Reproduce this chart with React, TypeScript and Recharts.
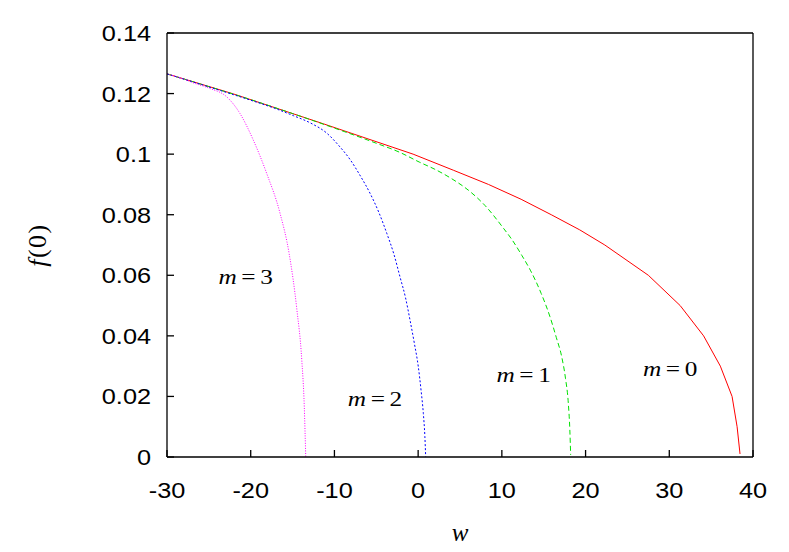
import React from 'react'
import { LineChart, Line, XAxis, YAxis, ReferenceDot, Label } from 'recharts'

// f(0) against w, one curve for each m
const m0 = [
  { w: -30, f: 0.1265 }, { w: -22.2, f: 0.12 }, { w: -11.3, f: 0.11 }, { w: -0.6, f: 0.1 },
  { w: 4.2, f: 0.0947 }, { w: 8.4, f: 0.09 }, { w: 12.3, f: 0.0851 }, { w: 15.9, f: 0.08 },
  { w: 19.3, f: 0.075 }, { w: 22.3, f: 0.07 }, { w: 27.5, f: 0.06 },
  { w: 31.3, f: 0.05 }, { w: 34.1, f: 0.04 }, { w: 36.1, f: 0.03 }, { w: 37.5, f: 0.02 },
  { w: 38.1, f: 0.01 }, { w: 38.45, f: 0.001 },
]
const m1 = [
  { w: -30, f: 0.1265 }, { w: -25, f: 0.1223 }, { w: -20, f: 0.118 }, { w: -15, f: 0.1134 },
  { w: -10, f: 0.1086 }, { w: -5, f: 0.1036 }, { w: -2.2, f: 0.1006 }, { w: 0.2, f: 0.0973 },
  { w: 2, f: 0.095 }, { w: 4, f: 0.0919 }, { w: 6, f: 0.0881 }, { w: 8, f: 0.083 },
  { w: 10.2, f: 0.0755 }, { w: 11.2, f: 0.0718 }, { w: 12.4, f: 0.0665 }, { w: 13.4, f: 0.0617 },
  { w: 14.7, f: 0.054 }, { w: 15.75, f: 0.0463 }, { w: 16.5, f: 0.0395 }, { w: 17.15, f: 0.0331 },
  { w: 17.6, f: 0.026 }, { w: 17.94, f: 0.0177 }, { w: 18.12, f: 0.009 }, { w: 18.22, f: 0.0007 },
]
const m2 = [
  { w: -30, f: 0.1265 }, { w: -25, f: 0.1222 }, { w: -20, f: 0.1178 }, { w: -17, f: 0.115 },
  { w: -14.9, f: 0.1127 }, { w: -12.8, f: 0.1102 }, { w: -10.9, f: 0.1069 }, { w: -9.5, f: 0.1029 },
  { w: -8.1, f: 0.0981 }, { w: -6.9, f: 0.0928 }, { w: -5.75, f: 0.0871 }, { w: -4.7, f: 0.0808 },
  { w: -3.75, f: 0.0739 }, { w: -2.9, f: 0.067 }, { w: -2.17, f: 0.0595 }, { w: -1.5, f: 0.0525 },
  { w: -0.97, f: 0.0452 }, { w: -0.45, f: 0.0375 }, { w: 0.02, f: 0.0298 }, { w: 0.35, f: 0.022 },
  { w: 0.62, f: 0.0144 }, { w: 0.8, f: 0.007 }, { w: 0.9, f: 0.0001 },
]
const m3 = [
  { w: -30, f: 0.1265 }, { w: -28, f: 0.1248 }, { w: -26.9, f: 0.1236 }, { w: -24.9, f: 0.1217 },
  { w: -22.9, f: 0.119 }, { w: -21.3, f: 0.1135 }, { w: -19.7, f: 0.1047 }, { w: -18.1, f: 0.0937 },
  { w: -16.5, f: 0.0805 }, { w: -15.4, f: 0.067 }, { w: -14.5, f: 0.049 }, { w: -13.9, f: 0.032 },
  { w: -13.6, f: 0.0166 }, { w: -13.43, f: 0.0001 },
]

const xTicks = [-30, -20, -10, 0, 10, 20, 30, 40]
const yTicks = [0, 0.02, 0.04, 0.06, 0.08, 0.1, 0.12, 0.14]

// curve labels, placed in data coordinates
const curveLabels = [
  { m: '3', w: -20.6, f: 0.0571 },
  { m: '2', w: -5.15, f: 0.0168 },
  { m: '1', w: 12.6, f: 0.0248 },
  { m: '0', w: 30.1, f: 0.0268 },
]

const SX = 1.15
const sans = '"Liberation Sans", Arial, sans-serif'
const serif = '"Liberation Serif", "Times New Roman", serif'
const axisStroke = { stroke: '#000', strokeWidth: 1.3 }

const LeftTick = (p: any) => (
  <text transform={`translate(${p.x},${p.y}) scale(${SX},1)`} textAnchor="end" dy="0.36em" fontFamily={sans} fontSize={22} fill="#000">
    {String(p.payload.value)}
  </text>
)

const BottomTick = (p: any) => (
  <text transform={`translate(${p.x},${p.y}) scale(${SX},1)`} textAnchor="middle" fontFamily={sans} fontSize={22} fill="#000">
    {String(p.payload.value)}
  </text>
)

const NoTick = () => <g />

const MLabel = ({ cx, cy, m }: any) => (
  <text transform={`translate(${cx},${cy}) scale(${SX},1)`} textAnchor="middle" fontFamily={serif} fontSize={22} fill="#000">
    <tspan fontStyle="italic">m</tspan>
    <tspan dx={4}>=</tspan>
    <tspan dx={4}>{m}</tspan>
  </text>
)

export default function App() {
  return (
    <div style={{ position: 'absolute', left: 0, top: 0, width: 789, height: 552, background: '#fff' }}>
      <LineChart width={789} height={552} margin={{ top: 32, right: 35, bottom: 0, left: 0 }}>
        <XAxis
          type="number"
          dataKey="w"
          domain={[-30, 40]}
          ticks={xTicks}
          height={95}
          tickSize={-7}
          tickMargin={47.5}
          tick={BottomTick}
          axisLine={axisStroke}
          tickLine={axisStroke}
        >
          <Label
            content={({ viewBox }: any) => (
              <text x={viewBox.x + viewBox.width / 2} y={541} textAnchor="middle" fontFamily={serif} fontStyle="italic" fontSize={25} fill="#000">
                w
              </text>
            )}
          />
        </XAxis>
        <XAxis
          xAxisId="top"
          orientation="top"
          type="number"
          domain={[-30, 40]}
          ticks={xTicks}
          height={1}
          tickSize={-7}
          tick={NoTick}
          axisLine={axisStroke}
          tickLine={axisStroke}
        />
        <YAxis
          type="number"
          domain={[0, 0.14]}
          ticks={yTicks}
          width={167}
          tickSize={-7}
          tickMargin={23}
          tick={LeftTick}
          axisLine={axisStroke}
          tickLine={axisStroke}
        >
          <Label
            content={({ viewBox }: any) => {
              const cy = viewBox.y + viewBox.height / 2
              return (
                <text transform={`translate(46,${cy}) rotate(-90)`} textAnchor="middle" fontFamily={serif} fontSize={26} letterSpacing={1.5} fill="#000">
                  <tspan fontStyle="italic">f</tspan>
                  <tspan>(0)</tspan>
                </text>
              )
            }}
          />
        </YAxis>
        <YAxis
          yAxisId="right"
          orientation="right"
          type="number"
          domain={[0, 0.14]}
          ticks={yTicks}
          width={1}
          tickSize={-7}
          tick={NoTick}
          axisLine={axisStroke}
          tickLine={axisStroke}
        />
        <Line data={m0} dataKey="f" type="linear" stroke="#ff0000" strokeWidth={1} dot={false} isAnimationActive={false} />
        <Line data={m1} dataKey="f" type="monotone" stroke="#00e000" strokeWidth={1} strokeDasharray="5 3" dot={false} isAnimationActive={false} />
        <Line data={m2} dataKey="f" type="monotone" stroke="#0000ff" strokeWidth={1} strokeDasharray="2 2" dot={false} isAnimationActive={false} />
        <Line data={m3} dataKey="f" type="monotone" stroke="#ff00ff" strokeWidth={1} strokeDasharray="1 1.5" dot={false} isAnimationActive={false} />
        {curveLabels.map((l) => (
          <ReferenceDot key={l.m} x={l.w} y={l.f} r={0} shape={(p: any) => <MLabel cx={p.cx} cy={p.cy} m={l.m} />} />
        ))}
      </LineChart>
    </div>
  )
}
